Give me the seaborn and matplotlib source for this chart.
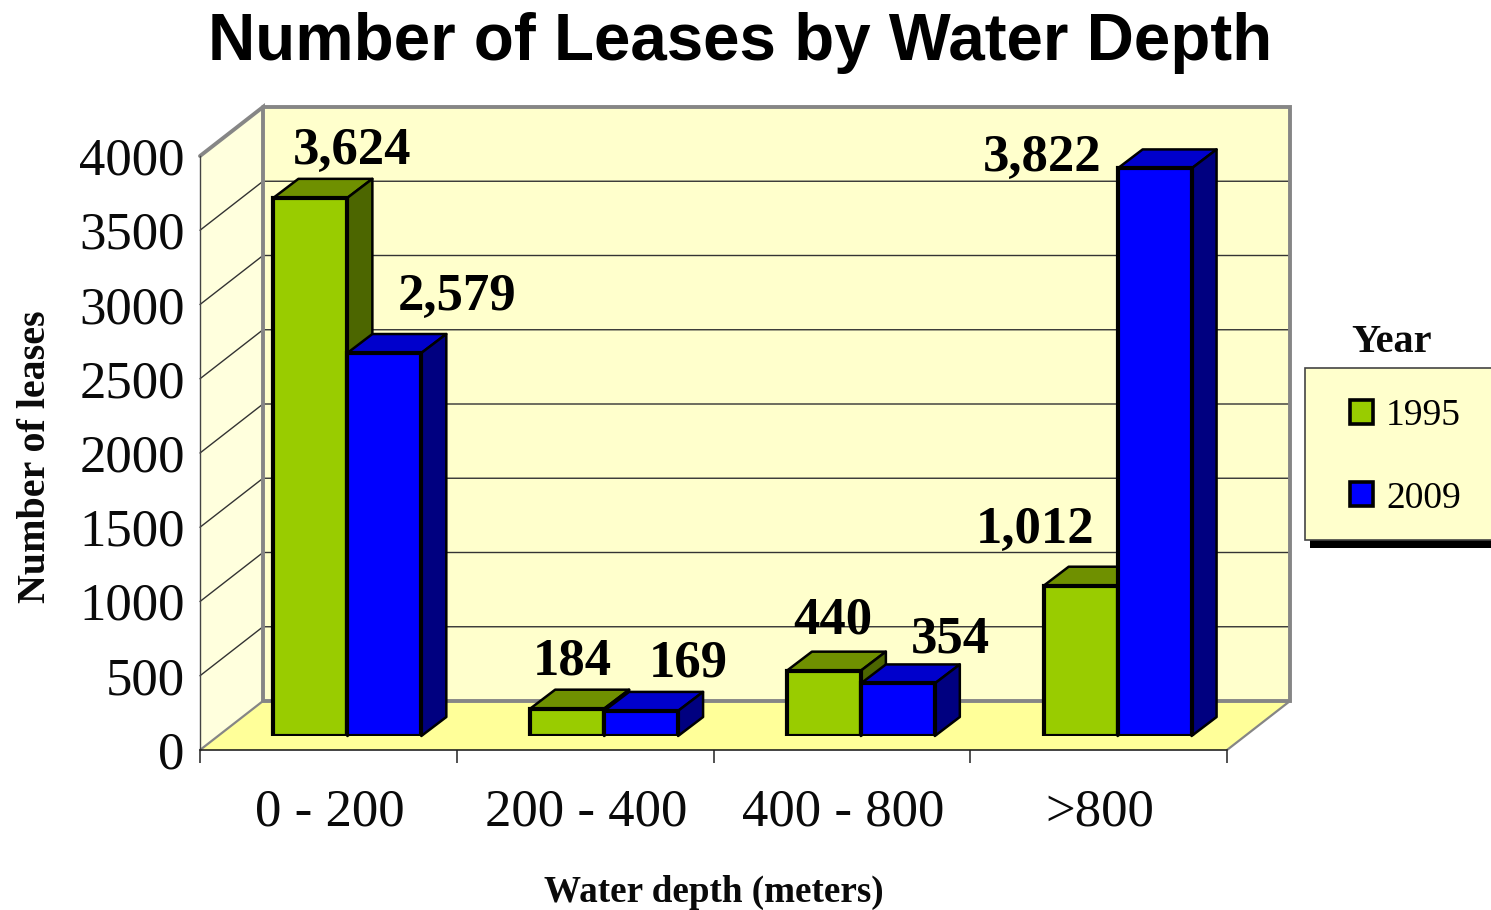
"""
Number of leases by water depth, 3D look bars on top of a seaborn barplot
"""
#---------------------------------------------
import matplotlib
matplotlib.use('Agg')
import matplotlib.pyplot as plt
import pandas as pd
import seaborn as sns
from matplotlib.patches import Patch, Polygon
from matplotlib.transforms import IdentityTransform, ScaledTranslation
#---------------------------------------------
# Data
depths = ['0 - 200', '200 - 400', '400 - 800', '>800']
leases_1995 = [3624, 184, 440, 1012]
leases_2009 = [2579, 169, 354, 3822]
y_ticks = [0, 500, 1000, 1500, 2000, 2500, 3000, 3500, 4000]

df = pd.DataFrame({
    'depth': depths * 2,
    'leases': leases_1995 + leases_2009,
    'year': ['1995'] * 4 + ['2009'] * 4,
})

# Label offsets from the top centre of each bar, in pixels (1995 then 2009)
label_off = [(42, 47), (5, 47), (9, 50), (-46, 56),
             (73, 56), (47, 47), (53, 44), (-112, 10)]

# Colours: front, top, side
colors = {'1995': ('#99CC00', '#6F9000', '#4C6600'),
          '2009': ('#0000FF', '#0000CC', '#000080')}
W, H = 1491, 910
SERIF = 'Liberation Serif'
GREY = '#868686'
#---------------------------------------------
sns.set_theme(style='white')
plt.rcParams['font.family'] = [SERIF, 'DejaVu Sans']

fig = plt.figure(figsize=(W / 100, H / 100), dpi=100)
ident = IdentityTransform()


def axes_box(left, right, top, bottom):
    # image pixels to figure fractions
    return [left / W, 1 - bottom / H, (right - left) / W, (bottom - top) / H]


# Front plane of the chart, holds the ticks
ax = fig.add_axes(axes_box(200, 1227, 156, 750), zorder=1)
ax.set_xlim(-0.5, 3.5)
ax.set_ylim(0, 4000)
ax.patch.set_visible(False)
for side in ['top', 'right']:
    ax.spines[side].set_visible(False)
ax.spines['left'].set_color('#444444')
ax.spines['left'].set_linewidth(1)
ax.spines['bottom'].set_color('#222222')
ax.spines['bottom'].set_linewidth(1.2)

ax.set_yticks(y_ticks)
ax.tick_params(axis='y', length=8, width=1.2, color='#333333', labelsize=38, pad=3)
ax.set_xticks(range(4))
ax.set_xticklabels(depths)
ax.tick_params(axis='x', which='major', length=0, labelsize=38, pad=27.5)
ax.set_xticks([-0.5, 0.5, 1.5, 2.5, 3.5], minor=True)
ax.tick_params(axis='x', which='minor', length=9, width=1.2, color='#333333', bottom=True)
ax.tick_params(labelcolor='#0A0A0A')
for lab in ax.get_xticklabels():
    lab.set_transform(lab.get_transform() + ScaledTranslation(1.5 / 100, 0, fig.dpi_scale_trans))

# Walls and floor, offset from the front plane by the chart depth
dx, dy = 63, 49
x0, y0 = ax.transData.transform((-0.5, 0))
x1, y1 = ax.transData.transform((3.5, 4000))
walls = [
    ([(x0, y0), (x0 + dx, y0 + dy), (x0 + dx, y1 + dy), (x0, y1)], '#FFFFDD'),
    ([(x0 + dx, y0 + dy), (x1 + dx, y0 + dy), (x1 + dx, y1 + dy), (x0 + dx, y1 + dy)], '#FFFFCC'),
    ([(x0, y0), (x1, y0), (x1 + dx, y0 + dy), (x0 + dx, y0 + dy)], '#FFFF99'),
]
for pts, col in walls:
    ax.add_patch(Polygon(pts, closed=True, facecolor=col, edgecolor='none',
                         transform=ident, clip_on=False, zorder=0.5))

# Gridlines on side wall and back wall
for v in y_ticks[1:-1]:
    _, yy = ax.transData.transform((-0.5, v))
    ax.plot([x0, x0 + dx, x1 + dx], [yy, yy + dy, yy + dy], color='#333333', lw=1,
            transform=ident, clip_on=False, zorder=0.7)

# Grey frame of the walls
ax.plot([x0, x0 + dx, x0 + dx, x1 + dx, x1 + dx, x0 + dx],
        [y1, y1 + dy, y0 + dy, y0 + dy, y1 + dy, y1 + dy],
        color=GREY, lw=2.8, transform=ident, clip_on=False, zorder=0.8, solid_joinstyle='miter')
ax.plot([x0, x0 + dx], [y0, y0 + dy], color=GREY, lw=1.6, transform=ident, clip_on=False, zorder=0.8)
ax.plot([x1, x1 + dx], [y0, y0 + dy], color=GREY, lw=1.6, transform=ident, clip_on=False, zorder=0.8)

#---------------------------------------------
# Bars live in a second axes, pushed back into the box
ax_bar = fig.add_axes(axes_box(219, 1246, 142, 736), zorder=2)
sns.barplot(data=df, x='depth', y='leases', hue='year', order=depths, hue_order=['1995', '2009'],
            palette={k: v[0] for k, v in colors.items()}, saturation=1, width=0.576, gap=0,
            edgecolor='black', linewidth=3.0, legend=False, ax=ax_bar)
ax_bar.set_xlim(-0.5, 3.5)
ax_bar.set_ylim(0, 4000)
ax_bar.axis('off')

bar_dx, bar_dy = 25, 19
bars = []
for cont, year in zip(ax_bar.containers, ['1995', '2009']):
    for patch in cont.patches:
        bars.append((patch, year))
labels = [f'{v:,}' for v in leases_1995 + leases_2009]

for i, (patch, year) in enumerate(bars):
    # draw left to right so the nearer bar covers its neighbour
    z = 3 + patch.get_x() * 2
    patch.set_zorder(z + 0.02)
    patch.set_joinstyle('miter')
    box = patch.get_window_extent()
    l, r, b, t = box.x0, box.x1, box.y0, box.y1
    top = [(l, t), (r, t), (r + bar_dx, t + bar_dy), (l + bar_dx, t + bar_dy)]
    side = [(r, b), (r + bar_dx, b + bar_dy), (r + bar_dx, t + bar_dy), (r, t)]
    for pts, col in [(top, colors[year][1]), (side, colors[year][2])]:
        ax_bar.add_patch(Polygon(pts, closed=True, facecolor=col, edgecolor='black', lw=1.8,
                                 joinstyle='round', transform=ident, clip_on=False, zorder=z))
    ax_bar.annotate(labels[i], xy=(patch.get_x() + patch.get_width() / 2, patch.get_height()),
                    xytext=label_off[i], textcoords='offset pixels', ha='center', va='center',
                    fontsize=38, fontweight='bold', color='black', annotation_clip=False,
                    zorder=20)

#---------------------------------------------
# Titles
fig.text(740 / W, 1 - 43 / H, 'Number of Leases by Water Depth', ha='center', va='center',
         fontsize=47.2, fontweight='bold', family='Liberation Sans', color='black')
fig.text(36 / W, 1 - 457 / H, 'Number of leases', rotation=90, ha='center', va='center',
         fontsize=28.8, fontweight='bold', color='#0A0A0A')
fig.text(714 / W, 1 - 892 / H, 'Water depth (meters)', ha='center', va='center',
         fontsize=26.7, fontweight='bold', color='#0A0A0A')

# Legend with the box running off the right edge and a hard shadow
fig.add_artist(Polygon([(1310, H - 548), (W, H - 548), (W, H - 530), (1310, H - 530)], closed=True,
                       facecolor='black', edgecolor='none', transform=ident))
fig.add_artist(Polygon([(1305, H - 540), (W + 5, H - 540), (W + 5, H - 368), (1305, H - 368)], closed=True,
                       facecolor='#FFFFCC', edgecolor='#444444', lw=1.2, transform=ident))
fig.text(1391 / W, 1 - 342 / H, 'Year', ha='center', va='center', fontsize=29, fontweight='bold',
         color='#0A0A0A')
handles = [Patch(facecolor=colors[y][0], edgecolor='black', lw=2.6, label=y) for y in ['1995', '2009']]
leg = fig.legend(handles=handles, loc='upper left', bbox_to_anchor=(1342 / W, 1 - 391 / H),
                 frameon=False, fontsize=27, handlelength=0.62, handleheight=0.62, handletextpad=0.35,
                 labelspacing=1.28, borderpad=0.2, borderaxespad=0, labelcolor='black')

fig.savefig('out.png', dpi=100)
